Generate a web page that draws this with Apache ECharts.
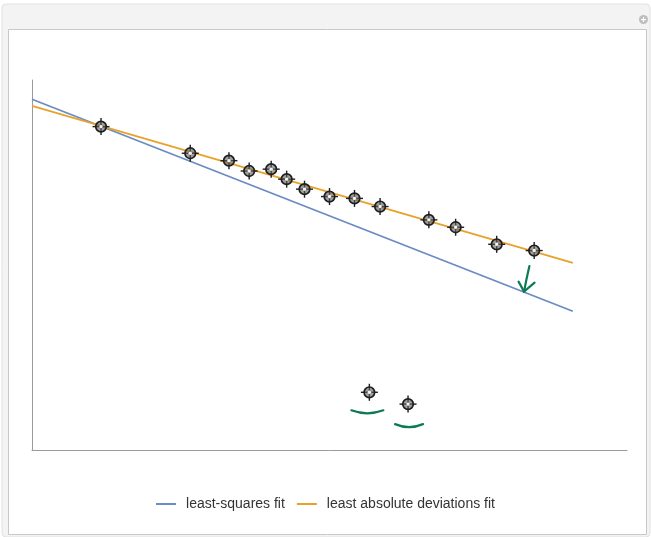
<!DOCTYPE html>
<html>
<head>
<meta charset="utf-8">
<style>
  html, body { margin: 0; padding: 0; background: #fff; }
  #chart { width: 651px; height: 537px; }
</style>
<script src="https://cdn.jsdelivr.net/npm/echarts@6/dist/echarts.min.js"></script>
</head>
<body>
<div id="chart"></div>
<script>
// Observations (x, y)
const pointX = [11.6, 26.6, 33.1, 36.5, 40.2, 42.8, 45.8, 50.0, 54.2, 58.5, 66.7, 71.2, 78.1, 84.4, 56.7, 63.2];
const pointY = [87.4, 80.2, 78.2, 75.4, 75.9, 73.2, 70.5, 68.5, 68.0, 65.8, 62.2, 60.2, 55.6, 53.9, 15.6, 12.4];

// Fitted lines, given by their end points
const fitX = [0, 90.9];
const leastSquaresY = [94.8, 37.5];
const leastAbsY = [93.0, 50.6];

// Handwritten marks: smiles under the two outliers, arrow toward the LS line
const outlierIdx = [14, 15];
const arrowFrom = [83.6, 49.7];
const arrowTo = [82.7, 42.8];

const seriesNames = ['least-squares fit', 'least absolute deviations fit'];
const blue = '#6a8bc3';
const orange = '#e8a22c';
const green = '#0d7a56';
const ink = '#1e1e1e';

const points = pointX.map((x, i) => [x, pointY[i]]);
const lsLine = fitX.map((x, i) => [x, leastSquaresY[i]]);
const ladLine = fitX.map((x, i) => [x, leastAbsY[i]]);

function renderMarker(params, api) {
  const p = api.coord([api.value(0), api.value(1)]);
  const arm = 8.5;
  return {
    type: 'group',
    children: [
      { type: 'line', shape: { x1: p[0] - arm, y1: p[1], x2: p[0] + arm, y2: p[1] },
        style: { stroke: ink, lineWidth: 1.4 } },
      { type: 'line', shape: { x1: p[0], y1: p[1] - arm, x2: p[0], y2: p[1] + arm },
        style: { stroke: ink, lineWidth: 1.4 } },
      { type: 'circle', shape: { cx: p[0], cy: p[1], r: 5.3 },
        style: { fill: 'rgba(95,95,95,0.6)', stroke: ink, lineWidth: 1.7 } },
      { type: 'circle', shape: { cx: p[0], cy: p[1], r: 1.7 },
        style: { fill: '#f4f4f4' } }
    ]
  };
}

function renderNotes(params, api) {
  const children = [];
  const penStyle = { stroke: green, lineWidth: 2.2, fill: null, lineCap: 'round' };
  // smiles under outliers
  outlierIdx.forEach((idx, k) => {
    const c = api.coord(points[idx]);
    const dy = k === 0 ? 20 : 22;
    const half = k === 0 ? 16 : 14;
    const dx = k === 0 ? -2 : 1;
    children.push({
      type: 'bezierCurve',
      shape: {
        x1: c[0] + dx - half, y1: c[1] + dy - 2,
        x2: c[0] + dx + half, y2: c[1] + dy - 2,
        cpx1: c[0] + dx, cpy1: c[1] + dy + 4
      },
      style: penStyle
    });
  });
  // arrow
  const a = api.coord(arrowFrom);
  const b = api.coord(arrowTo);
  children.push({
    type: 'bezierCurve',
    shape: { x1: a[0], y1: a[1], x2: b[0], y2: b[1], cpx1: a[0] - 3, cpy1: (a[1] + b[1]) / 2 },
    style: penStyle
  });
  children.push({
    type: 'polyline',
    shape: { points: [[b[0] - 5.5, b[1] - 10], [b[0], b[1]], [b[0] + 10.5, b[1] - 9]] },
    style: penStyle
  });
  return { type: 'group', children: children };
}

const chart = echarts.init(document.getElementById('chart'), null, { renderer: 'canvas' });

chart.setOption({
  animation: false,
  backgroundColor: '#fff',
  graphic: [
    { type: 'rect', z: -10, shape: { x: 2, y: 4, width: 648, height: 533, r: 4 },
      style: { fill: '#f3f3f3', stroke: '#e2e2e2', lineWidth: 1 } },
    { type: 'rect', z: -9, shape: { x: 8.5, y: 29.5, width: 638, height: 505 },
      style: { fill: '#fff', stroke: '#c8c8c8', lineWidth: 1 } },
    { type: 'circle', z: -9, shape: { cx: 643.5, cy: 19.5, r: 4.5 },
      style: { fill: '#bdbdbd' } },
    { type: 'rect', z: -8, shape: { x: 641, y: 19, width: 5, height: 1.2 }, style: { fill: '#fff' } },
    { type: 'rect', z: -8, shape: { x: 642.9, y: 17, width: 1.2, height: 5 }, style: { fill: '#fff' } }
  ],
  grid: { left: 32, right: 24, top: 80, bottom: 87, containLabel: false },
  xAxis: {
    type: 'value', min: 0, max: 100,
    axisLine: { show: true, onZero: false, lineStyle: { color: '#9a9a9a', width: 1 } },
    axisTick: { show: false }, axisLabel: { show: false }, splitLine: { show: false }
  },
  yAxis: {
    type: 'value', min: 0, max: 100,
    axisLine: { show: true, onZero: false, lineStyle: { color: '#9a9a9a', width: 1 } },
    axisTick: { show: false }, axisLabel: { show: false }, splitLine: { show: false }
  },
  legend: {
    data: seriesNames,
    left: 'center', top: 492,
    icon: 'rect', itemWidth: 20, itemHeight: 2, itemGap: 12,
    textStyle: { fontFamily: 'Liberation Sans, Arial, sans-serif', fontSize: 14, color: '#333', padding: [0, 0, 0, 5] }
  },
  series: [
    { name: seriesNames[0], type: 'line', data: lsLine, showSymbol: false, z: 2,
      color: blue, lineStyle: { color: blue, width: 1.8 } },
    { name: seriesNames[1], type: 'line', data: ladLine, showSymbol: false, z: 3,
      color: orange, lineStyle: { color: orange, width: 1.8 } },
    { name: 'data', type: 'custom', data: points, renderItem: renderMarker, z: 4 },
    { name: 'notes', type: 'custom', data: [[0, 0]], renderItem: renderNotes, z: 5, clip: false }
  ]
});
</script>
</body>
</html>
